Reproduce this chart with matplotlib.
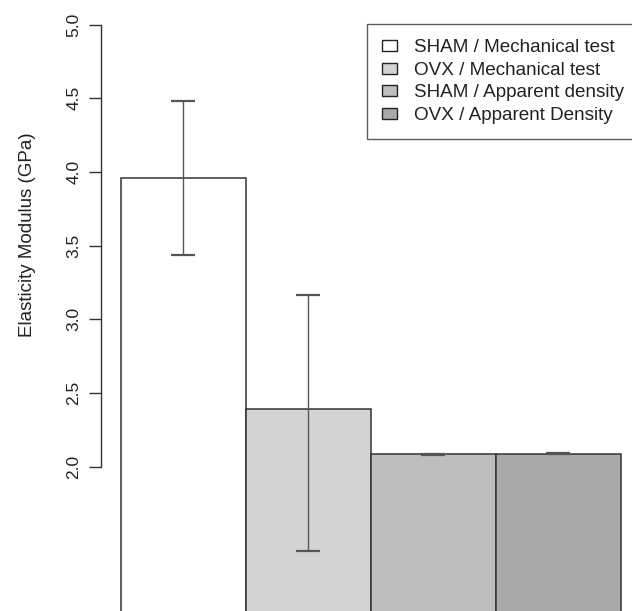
import matplotlib
matplotlib.use('Agg')
import matplotlib.pyplot as plt
from matplotlib.patches import Patch

plt.rcParams['font.family'] = ['Liberation Sans', 'DejaVu Sans']

# group means with lower / upper error extents
groups = ['SHAM / Mechanical test', 'OVX / Mechanical test',
          'SHAM / Apparent density', 'OVX / Apparent Density']
modulus = [3.96, 2.39, 2.083, 2.088]
err_low = [0.523, 0.96, 0.003, 0.003]
err_high = [0.523, 0.776, 0.003, 0.003]
fill_colors = ['#FFFFFF', '#D3D3D3', '#BEBEBE', '#A9A9A9']
y_ticks = [2.0, 2.5, 3.0, 3.5, 4.0, 4.5, 5.0]

W, H = 632, 611
fig = plt.figure(figsize=(W / 100, H / 100), dpi=100)
ax = fig.add_axes([100.7 / W, 0, 1 - 100.7 / W, 1])

px_per_bar = 125.0
px_per_unit = 147.3
ax.set_xlim(-0.16, -0.16 + (W - 100.7) / px_per_bar)
ax.set_ylim(5 - (H - 24.7) / px_per_unit, 5 + 24.7 / px_per_unit)

xs = [i + 0.5 for i in range(len(modulus))]
ax.bar(xs, modulus, width=1.0, bottom=0, color=fill_colors,
       edgecolor='#333333', linewidth=1.1, zorder=2)
ax.errorbar(xs, modulus, yerr=[err_low, err_high], fmt='none', ecolor='#555555',
            elinewidth=1.0, capsize=8.6, capthick=1.6, zorder=3)

for side in ['top', 'right', 'bottom']:
    ax.spines[side].set_visible(False)
ax.spines['left'].set_bounds(2.0, 5.0)
ax.spines['left'].set_color('#333333')
ax.spines['left'].set_linewidth(1.0)

ax.set_xticks([])
ax.set_yticks(y_ticks)
ax.set_yticklabels(['%.1f' % t for t in y_ticks], rotation=90, va='center',
                   fontsize=12.5, color='#222222')
ax.tick_params(axis='y', length=8.9, width=1.0, color='#333333', pad=5)

fig.text(28 / W, 1 - 235 / H, 'Elasticity Modulus (GPa)', rotation=90,
         ha='center', va='center', fontsize=13.5, color='#222222')

handles = [Patch(facecolor=c, edgecolor='#222222', linewidth=1.0) for c in fill_colors]
leg = ax.legend(handles, groups, loc='upper left',
                bbox_to_anchor=(366.7 / W, 1 - 24 / H), bbox_transform=fig.transFigure,
                borderaxespad=0, fontsize=13.6, frameon=True, fancybox=False,
                handlelength=0.79, handleheight=0.53, handletextpad=0.94,
                labelspacing=0.3, borderpad=0.8)
leg.get_frame().set_edgecolor('#333333')
leg.get_frame().set_linewidth(1.0)
for t in leg.get_texts():
    t.set_color('#222222')

fig.savefig('out.png', dpi=100)
